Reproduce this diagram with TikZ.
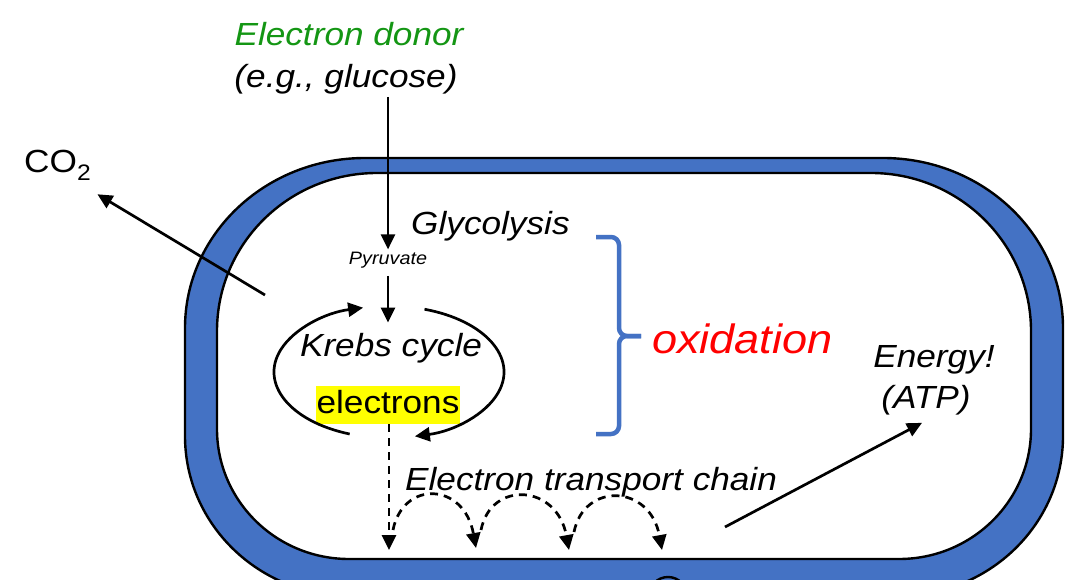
\documentclass[tikz,border=0pt]{standalone}
\usepackage{fontspec}
\setmainfont{Liberation Sans}[FakeStretch=1.1]
\usetikzlibrary{arrows.meta}
\definecolor{cellblue}{HTML}{4472C4}
\definecolor{donorgreen}{RGB}{20,150,20}
\definecolor{hilite}{HTML}{FFFF00}
\tikzset{>={Triangle[length=15pt,width=14pt]},
  lbl/.style={inner sep=2pt,font=\fontsize{32}{38}\selectfont\itshape},
  arr/.style={->,line width=2.7pt},
  darr/.style={->,line width=2.7pt,dash pattern=on 8pt off 6pt},
  wall/.style={draw=black,line width=2.4pt},
  brace/.style={draw=cellblue,line width=4.5pt,rounded corners=8pt}}

\begin{document}
\begin{tikzpicture}[x=1pt,y=-1pt]
    \useasboundingbox (0,0) rectangle (1068,580);
    \clip (0,0) rectangle (1068,580);
    % cell wall
    \draw[wall,fill=cellblue] (365,158) -- (883,158) arc[start angle=-90,end angle=0,x radius=180,y radius=170] -- (1063,436) arc[start angle=0,end angle=90,x radius=165,y radius=160] -- (350,596) arc[start angle=90,end angle=180,x radius=165,y radius=160] -- (185,328) arc[start angle=180,end angle=270,x radius=180,y radius=170] -- cycle;
    \draw[wall,fill=white] (377,173) -- (871,173) arc[start angle=-90,end angle=0,x radius=160,y radius=158] -- (1031,429) arc[start angle=0,end angle=90,x radius=132,y radius=130] -- (349,559) arc[start angle=90,end angle=180,x radius=132,y radius=130] -- (217,331) arc[start angle=180,end angle=270,x radius=160,y radius=158] -- cycle;
    \draw[wall] (668,596) circle[radius=19];
    % labels
    \node[lbl,text=donorgreen,anchor=base] (donor) at (349,46) {Electron donor};
    \node[lbl,anchor=base] (glucose) at (346,88) {(e.g., glucose)};
    \node[lbl,anchor=base,font=\fontsize{18}{20}\selectfont\itshape] (pyruvate) at (388,264) {Pyruvate};
    \node[lbl,anchor=base west] (glycolysis) at (409,235) {Glycolysis};
    \node[lbl,anchor=base] (krebs) at (391,356) {Krebs cycle};
    \node[lbl,anchor=base,font=\fontsize{32}{38}\selectfont,fill=hilite,inner sep=1pt,text height=26pt,text depth=10pt] (electrons) at (388,413) {electrons};
    \node[lbl,text=red,anchor=base west,font=\fontsize{41}{48}\selectfont\itshape] (oxidation) at (650,353) {oxidation};
    \node[lbl,anchor=base] (energy) at (934,367) {Energy!};
    \node[lbl,anchor=base] (atp) at (926,408) {(ATP)};
    \node[lbl,anchor=base west] (etc) at (403,490) {Electron transport chain};
    \node[lbl,anchor=base west,font=\fontsize{32}{38}\selectfont] (co2) at (22,173) {CO\textsubscript{2}};
    % pathway
    \draw[arr] (glucose.south -| pyruvate) -- (pyruvate.north);
    \draw[arr,shorten <=6pt] (pyruvate.south) -- ([yshift=8pt]krebs.north -| pyruvate);
    \coordinate (cyc) at (389,372);
    \draw[arr] ([shift={(110:115 and 66)}]cyc) arc[start angle=110,end angle=257,x radius=115,y radius=66];
    \draw[arr] ([shift={(-72:115 and 66)}]cyc) arc[start angle=-72,end angle=77,x radius=115,y radius=66];
    \coordinate (co2in) at (265,295);
    \draw[arr] (co2in) -- ([shift={(4,12)}]co2.south east);
    \draw[brace] (596,237) -- (619,237) -- (619,336) -- (641,336);
    \draw[brace] (596,434) -- (619,434) -- (619,336) -- (641,336);
    % transport chain
    \coordinate (tip0) at (389,550);
    \coordinate (tip1) at (477,550);
    \coordinate (tip2) at (570,552);
    \coordinate (tip3) at (663,552);
    \draw[darr] (electrons.south -| tip0) -- (tip0);
    \foreach \i/\j in {0/1,1/2,2/3}
      \draw[darr] ([shift={(4,-20)}]tip\i) .. controls +(10,-50) and +(-12,-66) .. ([shift={(-1,-2)}]tip\j);
    \coordinate (etcout) at (725,527);
    \draw[arr] (etcout) -- ([shift={(-4,6)}]atp.south);
\end{tikzpicture}
\end{document}
